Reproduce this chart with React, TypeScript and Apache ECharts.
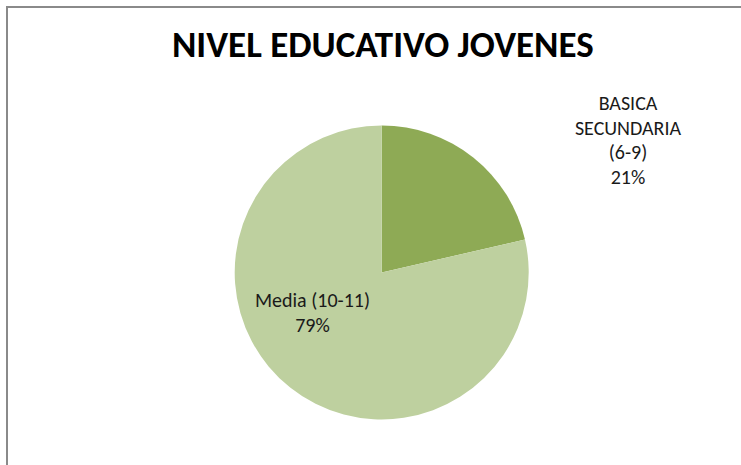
import React, { useEffect, useRef } from "react";
import * as echarts from "echarts";

const TITLE = "NIVEL EDUCATIVO JOVENES";
const categories = ["BASICA\nSECUNDARIA\n(6-9)", "Media (10-11)"];
const values = [21.4, 78.6];
const colors = ["#8EAA55", "#BED09F"];

const FONT = "Carlito, Lato, sans-serif";

export default function App() {
  const ref = useRef<HTMLDivElement>(null);
  useEffect(() => {
    const chart = echarts.init(ref.current!, null, { renderer: "svg" });
    chart.setOption({
      animation: false,
      backgroundColor: "#ffffff",
      title: {
        text: TITLE,
        left: 172,
        top: 26,
        padding: 0,
        textStyle: {
          fontFamily: FONT,
          fontWeight: "bold",
          fontSize: 37,
          color: "#000000",
        },
      },
      graphic: [
        {
          type: "rect",
          shape: { x: 7, y: 7, width: 900, height: 700 },
          style: { fill: "none", stroke: "#8a8a8a", lineWidth: 2 },
          silent: true,
        },
      ],
      series: [
        {
          type: "pie",
          center: [381.7, 272.5],
          radius: 147,
          startAngle: 90,
          clockwise: true,
          percentPrecision: 0,
          label: {
            show: true,
            position: "inside",
            formatter: "{b}\n{d}%",
            fontFamily: FONT,
            fontSize: 20,
            lineHeight: 24.7,
            color: "#1a1a1a",
            align: "center",
          },
          labelLine: { show: false },
          labelLayout: (params: any) => {
            if (params.dataIndex === 0) {
              return { x: 628, y: 140, align: "center", verticalAlign: "middle" };
            }
            return { x: 312.5, y: 312.5, align: "center", verticalAlign: "middle" };
          },
          itemStyle: { borderWidth: 0 },
          emphasis: { disabled: true },
          data: categories.map((name, i) => ({
            name,
            value: values[i],
            itemStyle: { color: colors[i] },
          })),
        },
      ],
    });
    return () => chart.dispose();
  }, []);
  return (
    <div
      ref={ref}
      style={{ position: "fixed", left: 0, top: 0, width: 741, height: 465 }}
    />
  );
}
